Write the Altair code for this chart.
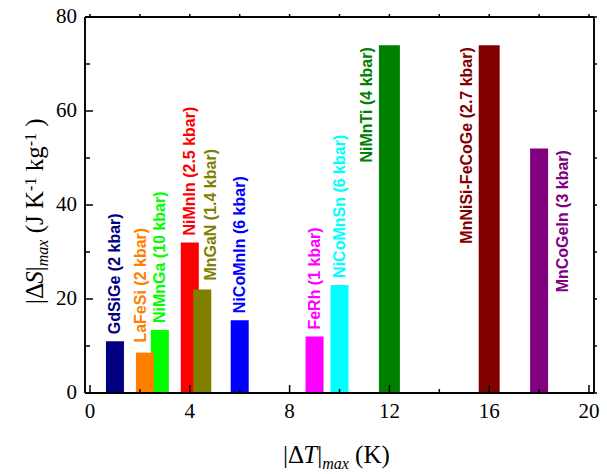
import altair as alt
import pandas as pd

# ---- data ----
materials = ["GdSiGe", "NiMnGa", "LaFeSi", "NiMnIn", "MnGaN", "NiCoMnIn",
             "FeRh", "NiCoMnSn", "NiMnTi", "MnNiSi-FeCoGe", "MnCoGeIn"]
pressures = ["2 kbar", "10 kbar", "2 kbar", "2.5 kbar", "1.4 kbar", "6 kbar",
             "1 kbar", "6 kbar", "4 kbar", "2.7 kbar", "3 kbar"]
delta_T = [1.0, 2.8, 2.2, 4.0, 4.5, 6.0, 9.0, 10.0, 12.0, 16.0, 18.0]
delta_S = [11.0, 13.4, 8.6, 32.0, 22.0, 15.5, 12.0, 23.0, 74.0, 74.0, 52.0]
colors = ["#000080", "#00ff00", "#ff8000", "#ff0000", "#808000", "#0000ff",
          "#ff00ff", "#00ffff", "#008000", "#800000", "#800080"]

x_major = [0, 4, 8, 12, 16, 20]
x_minor = [2, 6, 10, 14, 18]
y_major = [0, 20, 40, 60, 80]
y_minor = [10, 30, 50, 70]

df = pd.DataFrame({
    "material": materials,
    "label": [f"{m} ({p})" for m, p in zip(materials, pressures)],
    "dT": delta_T,
    "dS": delta_S,
})

W, H = 509, 376
xs = alt.Scale(domain=[0, 20], nice=False, zero=False)
ys = alt.Scale(domain=[0, 80], nice=False)
cs = alt.Scale(domain=materials, range=colors)

SERIF = "Liberation Serif"
SANS = "Liberation Sans"

wide = ["NiMnTi", "MnNiSi-FeCoGe"]

bars = alt.Chart(df).mark_bar(orient="vertical").encode(
    x=alt.X("dT:Q", scale=xs, axis=None),
    y=alt.Y("dS:Q", scale=ys, axis=None),
    color=alt.Color("material:N", scale=cs, legend=None),
    size=alt.condition(alt.FieldOneOfPredicate(field="material", oneOf=wide),
                       alt.value(21), alt.value(18)),
)

def label_layer(names, align, dx, dy):
    return alt.Chart(df).transform_filter(
        alt.FieldOneOfPredicate(field="material", oneOf=names)
    ).mark_text(angle=270, align=align, baseline="middle", dx=dx, dy=dy,
                font=SANS, fontWeight="bold", fontSize=16).encode(
        x=alt.X("dT:Q", scale=xs, axis=None),
        y=alt.Y("dS:Q", scale=ys, axis=None),
        text="label:N",
        color=alt.Color("material:N", scale=cs, legend=None),
    )

labels = [
    label_layer(["GdSiGe", "NiMnGa", "NiMnIn", "NiCoMnIn", "FeRh", "NiCoMnSn"], "left", 7, 0),
    label_layer(["LaFeSi"], "left", 10, -4),
    label_layer(["MnGaN"], "left", 9, 8.5),
    label_layer(["NiMnTi", "MnNiSi-FeCoGe"], "right", -2, -22),
    label_layer(["MnCoGeIn"], "right", -1.5, 23.5),
]

# ---- frame ----
def frame_rule(**enc):
    return alt.Chart(pd.DataFrame({"a": [0]})).mark_rule(
        color="black", strokeWidth=1.9).encode(**enc)

frame = [
    frame_rule(x=alt.value(0), y=alt.value(0), y2=alt.value(H)),
    frame_rule(x=alt.value(W), y=alt.value(0), y2=alt.value(H)),
    frame_rule(y=alt.value(0), x=alt.value(0), x2=alt.value(W)),
    frame_rule(y=alt.value(H), x=alt.value(0), x2=alt.value(W)),
]

# ---- inward ticks ----
def xticks(vals, y0, y1):
    return alt.Chart(pd.DataFrame({"t": vals})).mark_rule(color="black", strokeWidth=1.5).encode(
        x=alt.X("t:Q", scale=xs, axis=None), y=alt.value(y0), y2=alt.value(y1))

def yticks(vals, x0, x1):
    return alt.Chart(pd.DataFrame({"t": vals})).mark_rule(color="black", strokeWidth=1.5).encode(
        y=alt.Y("t:Q", scale=ys, axis=None), x=alt.value(x0), x2=alt.value(x1))

ticks = [
    xticks(x_major, H, H - 8),
    xticks(x_minor, H, H - 4),
    xticks(sorted(x_major + x_minor), 0, -3),
    yticks(y_major, 0, 8),
    yticks(y_minor, 0, 5),
    yticks(y_major + y_minor, W, W + 3),
]

# ---- tick labels ----
tick_labels = [
    alt.Chart(pd.DataFrame({"t": x_major})).mark_text(
        baseline="top", align="center", font=SERIF, fontSize=21, color="black",
        dy=8).encode(
        x=alt.X("t:Q", scale=xs, axis=None), y=alt.value(H),
        text=alt.Text("t:Q", format="d")),
    alt.Chart(pd.DataFrame({"t": y_major})).mark_text(
        baseline="middle", align="right", font=SERIF, fontSize=21, color="black",
        dx=-8).encode(
        y=alt.Y("t:Q", scale=ys, axis=None), x=alt.value(0),
        text=alt.Text("t:Q", format="d")),
]

# ---- axis titles composed from styled pieces ----
ADV = {  # Times-like advance widths per 1000 em
    "|": 200, "Δ": 612, " ": 250, "(": 333, ")": 333, "J": 389, "K": 722,
    "k": 500, "g": 500, "-": 333, "1": 500,
}
ADV_I = {"S": 500, "T": 556, "m": 722, "a": 500, "x": 444}

def width(s, size, italic=False):
    table = ADV_I if italic else ADV
    return sum(table.get(c, 500) for c in s) * size / 1000.0

F, f = 25, 16
SP = 250 * F / 1000.0

def piece(text, px, py, size, italic, angle=0):
    kw = dict(align="left", baseline="alphabetic", font=SERIF, fontSize=size,
              color="black")
    if italic:
        kw["fontStyle"] = "italic"
    if angle:
        kw["angle"] = angle
    return alt.Chart(pd.DataFrame({"a": [0]})).mark_text(**kw).encode(
        x=alt.value(px), y=alt.value(py), text=alt.value(text))

# pieces: (text, size, italic, baseline shift, gap before)
x_pieces = [("|Δ", F, False, 0, 0), ("T", F, True, 0, 0), ("|", F, False, 0, 0),
            ("max", f, True, 6, 0), ("(K)", F, False, 0, SP)]
titles = []
cx, base = 198, 446
for t, s, it, sh, gap in x_pieces:
    cx += gap
    titles.append(piece(t, cx, base + sh, s, it))
    cx += width(t, s, it)

y_pieces = [("|Δ", F, False, 0, 0), ("S", F, True, 0, 0), ("|", F, False, 0, 0),
            ("max", f, True, 5, 0), ("(J", F, False, 0, SP), ("K", F, False, 0, SP),
            ("-1", f, False, -7, 0), ("kg", F, False, 0, SP),
            ("-1", f, False, -7, 0), (")", F, False, 0, SP)]
cy, bx = 287, -42
for t, s, it, sh, gap in y_pieces:
    cy -= gap
    titles.append(piece(t, bx + sh, cy, s, it, angle=270))
    cy -= width(t, s, it)

chart = alt.layer(bars, *labels, *frame, *ticks, *tick_labels, *titles).properties(
    width=W, height=H,
    autosize=alt.AutoSizeParams(type="none"),
    padding={"left": 85, "top": 17, "right": 13, "bottom": 81},
).configure_view(stroke=None)

chart.save("out.html", embed_options={"renderer": "svg", "actions": False})
